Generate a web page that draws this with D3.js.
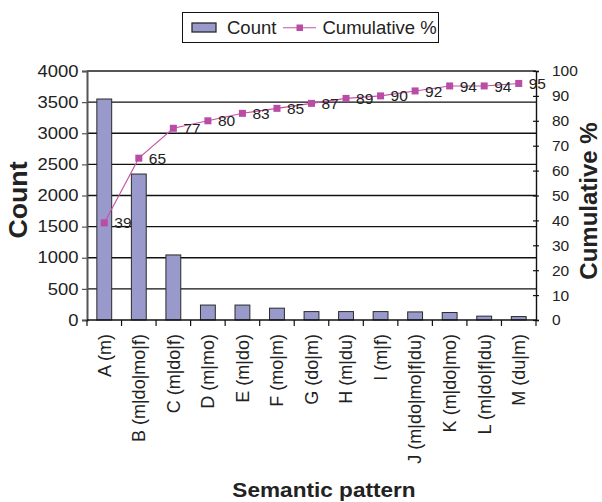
<!DOCTYPE html>
<html><head><meta charset="utf-8">
<script src="https://cdn.jsdelivr.net/npm/d3@7/dist/d3.min.js"></script>
<style>
html,body{margin:0;padding:0;background:#fff;}
svg{display:block;font-family:"Liberation Sans",Arial,sans-serif;}
</style></head>
<body>
<svg id="chart" width="602" height="502"></svg>
<script>
const categories = ["A (m)","B (m|do|mo|f)","C (m|do|f)","D (m|mo)","E (m|do)","F (mo|m)","G (do|m)","H (m|du)","I (m|f)","J (m|do|mo|f|du)","K (m|do|mo)","L (m|do|f|du)","M (du|m)"];
const counts = [3550,2345,1045,240,240,190,135,135,135,130,120,62,55];
const cumulative = [39,65,77,80,83,85,87,89,90,92,94,94,95];
const countTicks = [0,500,1000,1500,2000,2500,3000,3500,4000];
const pctTicks = [0,10,20,30,40,50,60,70,80,90,100];

const svg = d3.select("#chart");
const L = 87, R = 536, T = 71, B = 320;
const x = d3.scaleBand().domain(categories).range([L, R]).padding(0);
const yL = d3.scaleLinear().domain([0, 4000]).range([B, T]);
const yR = d3.scaleLinear().domain([0, 100]).range([B, T]);
const barW = x.bandwidth() * 0.43;
const barFill = "#9999cc", lineCol = "#c453a6", markCol = "#b94ca4";

// gridlines
svg.append("g").selectAll("line").data(countTicks.filter(d => d > 0 && d < 4000)).join("line")
  .attr("x1", L).attr("x2", R).attr("y1", d => yL(d)).attr("y2", d => yL(d))
  .attr("stroke", "#111").attr("stroke-width", 1.4);
// top border
svg.append("line").attr("x1", L).attr("x2", R).attr("y1", yL(4000)).attr("y2", yL(4000))
  .attr("stroke", "#555").attr("stroke-width", 2);

// bars
svg.append("g").selectAll("rect").data(counts).join("rect")
  .attr("x", (d, i) => x(categories[i]) + x.bandwidth() / 2 - barW / 2)
  .attr("y", d => yL(d)).attr("width", barW).attr("height", d => B - yL(d))
  .attr("fill", barFill).attr("stroke", "#2a2a2a").attr("stroke-width", 1);

// left axis
const gL = svg.append("g").attr("transform", `translate(${L},0)`)
  .call(d3.axisLeft(yL).tickValues(countTicks).tickSize(5).tickPadding(10).tickFormat(d3.format("d")));
gL.select(".domain").attr("stroke", "#555").attr("stroke-width", 2);
gL.selectAll(".tick line").attr("stroke", "#555").attr("stroke-width", 1.2);
gL.selectAll(".tick text").attr("font-size", 16).attr("fill", "#222")
  .attr("font-family", "Liberation Sans, Arial, sans-serif")
  .attr("transform", "translate(-10,0) scale(1.15,1) translate(10,0)")
  .attr("x", -10 / 1.15);

// right axis
const gR = svg.append("g").attr("transform", `translate(${R},0)`)
  .call(d3.axisRight(yR).tickValues(pctTicks).tickSize(3).tickPadding(13).tickFormat(d3.format("d")));
gR.select(".domain").attr("stroke", "#111").attr("stroke-width", 1.4);
gR.selectAll(".tick line").attr("x1", -3).attr("x2", 3).attr("stroke", "#111").attr("stroke-width", 1.2);
gR.selectAll(".tick text").attr("font-size", 15.5).attr("fill", "#222")
  .attr("font-family", "Liberation Sans, Arial, sans-serif");

// bottom axis
const edges = categories.map(c => x(c)).concat([R]);
svg.append("line").attr("x1", L).attr("x2", R).attr("y1", B).attr("y2", B)
  .attr("stroke", "#111").attr("stroke-width", 1.5);
svg.append("g").selectAll("line").data(edges).join("line")
  .attr("x1", d => d).attr("x2", d => d).attr("y1", B).attr("y2", B + 6)
  .attr("stroke", "#111").attr("stroke-width", 1.2);
svg.append("g").selectAll("text").data(categories).join("text")
  .attr("transform", d => `translate(${x(d) + x.bandwidth() / 2},334) rotate(-90)`)
  .attr("dy", "0.35em").attr("text-anchor", "end")
  .attr("font-size", 18).attr("fill", "#222").text(d => d);

// cumulative line
const cx = i => x(categories[i]) + x.bandwidth() / 2;
svg.append("path").datum(cumulative)
  .attr("d", d3.line().x((d, i) => cx(i)).y(d => yR(d)))
  .attr("fill", "none").attr("stroke", lineCol).attr("stroke-width", 1.1);
svg.append("g").selectAll("rect").data(cumulative).join("rect")
  .attr("x", (d, i) => cx(i) - 3.5).attr("y", d => yR(d) - 3.5)
  .attr("width", 7).attr("height", 7).attr("fill", markCol);
svg.append("g").selectAll("text").data(cumulative).join("text")
  .attr("x", (d, i) => cx(i) + 10).attr("y", d => yR(d)).attr("dy", "0.36em")
  .attr("font-size", 15.5).attr("fill", "#222").text(d => d);

// axis titles
svg.append("text").attr("transform", "translate(27,200) rotate(-90) scale(1.07,1)")
  .attr("text-anchor", "middle").attr("font-size", 25).attr("font-weight", "bold")
  .attr("fill", "#222").text("Count");
svg.append("text").attr("transform", "translate(597,201) rotate(-90)")
  .attr("text-anchor", "middle").attr("font-size", 24).attr("font-weight", "bold")
  .attr("fill", "#222").text("Cumulative %");
svg.append("text").attr("transform", "translate(324,497) scale(1.13,1)")
  .attr("text-anchor", "middle").attr("font-size", 20).attr("font-weight", "bold")
  .attr("fill", "#222").text("Semantic pattern");

// legend
const lg = svg.append("g");
lg.append("rect").attr("x", 182.5).attr("y", 12.5).attr("width", 256).attr("height", 30)
  .attr("fill", "#fff").attr("stroke", "#111").attr("stroke-width", 1);
lg.append("rect").attr("x", 192).attr("y", 23).attr("width", 24).attr("height", 9)
  .attr("fill", barFill).attr("stroke", "#2a2a2a").attr("stroke-width", 1.3);
lg.append("text").attr("x", 227).attr("y", 34).attr("font-size", 18.5).attr("fill", "#222").text("Count");
lg.append("line").attr("x1", 283).attr("x2", 316).attr("y1", 27.7).attr("y2", 27.7)
  .attr("stroke", lineCol).attr("stroke-width", 1.1);
lg.append("rect").attr("x", 296.5).attr("y", 24.5).attr("width", 6.5).attr("height", 6.5).attr("fill", markCol);
lg.append("text").attr("x", 322.5).attr("y", 34).attr("font-size", 18.5).attr("fill", "#222").text("Cumulative %");
</script>
</body></html>
